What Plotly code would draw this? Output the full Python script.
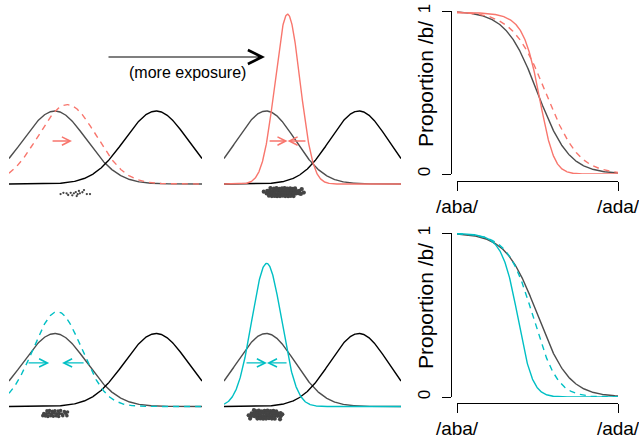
import numpy as np
import plotly.graph_objects as go

W, H = 639, 438
FONT = "Liberation Sans, Arial, sans-serif"

# ---------------- data ----------------
# category distributions on the cue continuum: (mean, sd)
d_mean, d_sd = 3.2, 1.0                 # /d/ category (black)
prior_mean, prior_sd = 0.0, 1.0         # /b/ prior (gray)
shift_means = [0.39, 0.74]              # top row: little exposure (dashed), more exposure (solid)
shift_sds = [0.92, 0.43]
narrow_means = [0.08, 0.02]             # bottom row: little exposure (dashed), more exposure (solid)
narrow_sds = [0.77, 0.51]

cue_range = [-1.45, 4.65]               # x extent of the distribution panels
continuum = [0.0, 3.2]                  # /aba/ .. /ada/ continuum of the classification panels
continuum_labels = ["/aba/", "/ada/"]
prop_ticks = [0, 1]

# exposure tokens (x on the cue axis, small vertical jitter below the baseline)
few_shift_x = [0.18, 0.27, 0.37, 0.42, 0.50, 0.55, 0.60, 0.66, 0.69, 0.72, 0.76, 0.79, 0.87, 0.92, 1.01, 1.11]
few_shift_y = [-0.055, -0.048, -0.051, -0.060, -0.048, -0.062, -0.051, -0.044, -0.066, -0.056, -0.038,
               -0.051, -0.045, -0.033, -0.055, -0.055]
more_shift_tokens = [
    (0.27, -0.025), (0.36, -0.023), (0.46, -0.026), (0.55, -0.024), (0.64, -0.022), (0.73, -0.025),
    (0.83, -0.024), (0.92, -0.026), (1.00, -0.024),
    (0.04, -0.038), (0.13, -0.037), (0.22, -0.039), (0.31, -0.038), (0.41, -0.036), (0.50, -0.039),
    (0.59, -0.038), (0.69, -0.037), (0.78, -0.039), (0.87, -0.038), (0.97, -0.036), (1.06, -0.039),
    (1.15, -0.038),
    (0.02, -0.052), (0.11, -0.053), (0.20, -0.051), (0.30, -0.052), (0.39, -0.054), (0.48, -0.052),
    (0.58, -0.051), (0.67, -0.053), (0.76, -0.052), (0.86, -0.051), (0.95, -0.053), (1.04, -0.052),
    (1.14, -0.051), (1.20, -0.054),
    (0.20, -0.066), (0.29, -0.065), (0.38, -0.067), (0.48, -0.066), (0.57, -0.064), (0.66, -0.066),
    (0.76, -0.067), (0.85, -0.065), (0.95, -0.066),
    (-0.08, -0.042), (1.30, -0.047), (0.10, -0.064), (1.23, -0.028), (0.15, -0.022),
]
few_narrow_tokens = [
    (-0.25, -0.024), (-0.17, -0.022), (-0.08, -0.026), (0.00, -0.023), (0.10, -0.025), (0.18, -0.022),
    (0.30, -0.027),
    (-0.35, -0.038), (-0.27, -0.040), (-0.19, -0.037), (-0.10, -0.039), (-0.02, -0.036), (0.06, -0.040),
    (0.14, -0.038), (0.22, -0.041), (0.33, -0.037),
    (-0.30, -0.052), (-0.22, -0.054), (-0.13, -0.050), (-0.05, -0.053), (0.04, -0.051), (0.12, -0.055),
    (0.25, -0.050),
    (0.40, -0.030), (0.38, -0.050), (-0.38, -0.050),
]
more_narrow_tokens = [
    (-0.35, -0.025), (-0.25, -0.023), (-0.15, -0.026), (-0.05, -0.024), (0.05, -0.022), (0.15, -0.025),
    (0.25, -0.024), (0.35, -0.026),
    (-0.50, -0.038), (-0.40, -0.037), (-0.30, -0.039), (-0.20, -0.038), (-0.10, -0.036), (0.00, -0.039),
    (0.10, -0.038), (0.20, -0.037), (0.30, -0.039), (0.40, -0.038), (0.50, -0.036),
    (-0.50, -0.052), (-0.40, -0.053), (-0.30, -0.051), (-0.20, -0.052), (-0.10, -0.054), (0.00, -0.052),
    (0.10, -0.051), (0.20, -0.053), (0.30, -0.052), (0.40, -0.051), (0.50, -0.053),
    (-0.30, -0.066), (-0.20, -0.065), (-0.10, -0.067), (0.00, -0.066), (0.10, -0.064), (0.20, -0.066),
    (0.30, -0.067),
    (-0.60, -0.048), (0.56, -0.043), (-0.55, -0.066), (0.48, -0.070), (-0.42, -0.020),
]

# arrows: (tail, head) on the cue axis, drawn at a fixed density level
arrow_level = [0.235, 0.238]
shift_few_arrows = [(-0.12, 0.54)]
shift_more_arrows = [(0.07, 0.74), (1.41, 0.74)]
narrow_few_arrows = [(-0.88, -0.18), (0.955, 0.227)]
narrow_more_arrows = [(-0.726, 0.03), (0.757, 0.03)]

# ---------------- styles ----------------
GRAY = "#4d4d4d"
BLACK = "#000000"
RED = "#F8766D"
CYAN = "#00BFC4"
DOT = "#444444"
DASH = "6px,5px"
LW = 1.4


def fx(px):
    return px / W


def fy(py):
    return 1 - py / H


def dens(x, m, s):
    return np.exp(-0.5 * ((x - m) / s) ** 2) / (s * np.sqrt(2 * np.pi))


def prob_b(x, m, s):
    nb = dens(x, m, s)
    nd = dens(x, d_mean, d_sd)
    return nb / (nb + nd)


xs = np.linspace(cue_range[0], cue_range[1], 500)
xc = np.linspace(continuum[0], continuum[1], 400)

fig = go.Figure()


def line(x, y, ax, color, dash=None):
    fig.add_trace(go.Scatter(x=x, y=y, mode="lines", xaxis="x" + ax, yaxis="y" + ax,
                             line=dict(color=color, width=LW, dash=dash), hoverinfo="skip"))


def dots(x, y, ax, size):
    fig.add_trace(go.Scatter(x=x, y=y, mode="markers", xaxis="x" + ax, yaxis="y" + ax,
                             marker=dict(color=DOT, size=size, line=dict(width=0)), hoverinfo="skip"))


rows = [
    ("", "2", "3", shift_means, shift_sds, RED,
     (few_shift_x, few_shift_y), list(zip(*more_shift_tokens)), shift_few_arrows, shift_more_arrows, arrow_level[0]),
    ("4", "5", "6", narrow_means, narrow_sds, CYAN,
     tuple(zip(*few_narrow_tokens)), list(zip(*more_narrow_tokens)), narrow_few_arrows, narrow_more_arrows,
     arrow_level[1]),
]

annotations = []
for a_few, a_more, a_sig, means, sds, col, tok_few, tok_more, arr_few, arr_more, lev in rows:
    for ax, m, s, dash, tok, arr, msize in [(a_few, means[0], sds[0], DASH, tok_few, arr_few, 2.3 if col == RED else 3.6),
                                             (a_more, means[1], sds[1], None, tok_more, arr_more, 4.2)]:
        line(xs, dens(xs, prior_mean, prior_sd), ax, GRAY)
        line(xs, dens(xs, d_mean, d_sd), ax, BLACK)
        line(xs, dens(xs, m, s), ax, col, dash)
        dots(list(tok[0]), list(tok[1]), ax, msize)
        axid = "x" + ax
        ayid = "y" + ax
        for tail, head in arr:
            annotations.append(dict(x=head, y=lev, ax=tail, ay=lev, xref=axid, yref=ayid,
                                    axref=axid, ayref=ayid, text="", showarrow=True,
                                    arrowhead=5, arrowsize=1.25, arrowwidth=1.3, arrowcolor=col,
                                    standoff=0, startstandoff=0))
    line(xc, prob_b(xc, prior_mean, prior_sd), a_sig, GRAY)
    line(xc, prob_b(xc, means[0], sds[0]), a_sig, col, DASH)
    line(xc, prob_b(xc, means[1], sds[1]), a_sig, col)

annotations.append(dict(x=fx(265), y=fy(57), xref="paper", yref="paper", ax=-158, ay=0,
                        axref="pixel", ayref="pixel", text="", showarrow=True,
                        arrowhead=5, arrowsize=2.3, arrowwidth=1.2, arrowcolor=BLACK, standoff=0))
annotations.append(dict(x=fx(187.5), y=fy(72), xref="paper", yref="paper", text="(more exposure)",
                        showarrow=False, font=dict(family=FONT, size=16, color=BLACK),
                        xanchor="center", yanchor="middle"))
for ycen in (84, 306):
    annotations.append(dict(x=fx(425), y=fy(ycen), xref="paper", yref="paper", text="Proportion /b/",
                            textangle=-90, showarrow=False, font=dict(family=FONT, size=21, color=BLACK),
                            xanchor="center", yanchor="middle"))


def hidden(domain, rng, anchor):
    return dict(domain=domain, range=rng, visible=False, fixedrange=True, anchor=anchor, automargin=False)


K = 183.0
top_y = [(184 - 205) / K, (184 - 0) / K]
bot_y = [(406.5 - 430) / K, (406.5 - 225) / K]


def sig_x(py_axis):
    return dict(domain=[fx(457), fx(618)], range=continuum, anchor="free", position=fy(py_axis),
                showline=True, linecolor=BLACK, linewidth=1, ticks="outside", ticklen=9, tickwidth=1,
                tickcolor=BLACK, tickvals=continuum, ticktext=continuum_labels, showgrid=False,
                zeroline=False, tickfont=dict(family=FONT, size=19, color=BLACK), ticklabelstandoff=-1,
                ticklabeloverflow="allow", fixedrange=True, automargin=False)


def sig_y(top, bottom):
    return dict(domain=[fy(bottom), fy(top)], range=[0, 1], anchor="free", position=fx(451),
                showline=True, linecolor=BLACK, linewidth=1, ticks="outside", ticklen=9, tickwidth=1,
                tickcolor=BLACK, tickvals=prop_ticks, ticktext=[str(t) for t in prop_ticks], tickangle=-90,
                showgrid=False, zeroline=False, tickfont=dict(family=FONT, size=17, color=BLACK),
                ticklabelstandoff=5, ticklabeloverflow="allow", fixedrange=True, automargin=False)


fig.update_layout(
    width=W, height=H, margin=dict(l=0, r=0, t=0, b=0, autoexpand=False),
    paper_bgcolor="white", plot_bgcolor="white", showlegend=False,
    xaxis=hidden([fx(9), fx(202)], cue_range, "y"), yaxis=hidden([fy(205), fy(0)], top_y, "x"),
    xaxis2=hidden([fx(224), fx(401)], cue_range, "y2"), yaxis2=hidden([fy(205), fy(0)], top_y, "x2"),
    xaxis3=sig_x(181), yaxis3=sig_y(11, 174),
    xaxis4=hidden([fx(9), fx(202)], cue_range, "y4"), yaxis4=hidden([fy(430), fy(225)], bot_y, "x4"),
    xaxis5=hidden([fx(224), fx(401)], cue_range, "y5"), yaxis5=hidden([fy(430), fy(225)], bot_y, "x5"),
    xaxis6=sig_x(403), yaxis6=sig_y(233, 397),
    annotations=annotations,
)

fig.write_html("out.html", config={"displayModeBar": False, "staticPlot": True},
               post_script="document.body.style.margin='0px';document.body.style.overflow='hidden';")
